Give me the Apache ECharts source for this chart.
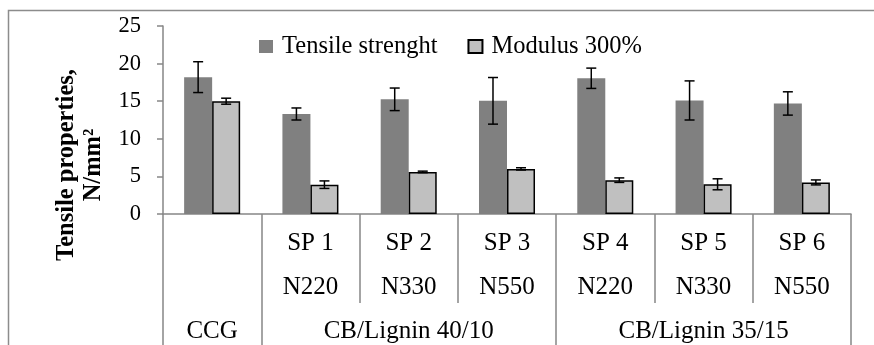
<!DOCTYPE html>
<html>
<head>
<meta charset="utf-8">
<title>Tensile properties</title>
<script src="https://cdn.jsdelivr.net/npm/echarts@6/dist/echarts.min.js"></script>
<style>
  html, body { margin: 0; padding: 0; background: #fff; }
  #chart { width: 874px; height: 345px; }
</style>
</head>
<body>
<div id="chart"></div>
<script>
// Sample rows: compound name, carbon-black grade and filler group
const samples = ['CCG', 'SP 1', 'SP 2', 'SP 3', 'SP 4', 'SP 5', 'SP 6'];
const grades = ['', 'N220', 'N330', 'N550', 'N220', 'N330', 'N550'];
const groups = ['CCG', 'CB/Lignin 40/10', 'CB/Lignin 35/15'];
const groupSpans = [1, 3, 3];

// Measured values (N/mm²) and their standard deviations
const tensile = [18.2, 13.3, 15.25, 15.05, 18.05, 15.1, 14.7];
const tensileErr = [2.05, 0.8, 1.5, 3.1, 1.35, 2.6, 1.55];
const modulus = [15.0, 3.9, 5.6, 6.0, 4.5, 3.95, 4.2];
const modulusErr = [0.4, 0.5, 0.1, 0.15, 0.3, 0.73, 0.33];

const yTicks = { min: 0, max: 25, interval: 5 };

const FONT = 'Liberation Serif';
const GRID_GRAY = '#868686';
const CAT_GAP = 0.43;

// Index where each group starts and the index carrying its label
const groupStarts = [];
const groupLabelAt = {};
let acc = 0;
groups.forEach((g, i) => {
  groupStarts.push(acc);
  groupLabelAt[acc + Math.floor((groupSpans[i] - 1) / 2)] = g;
  acc += groupSpans[i];
});

// Error bars drawn on top of one of the two bars in each category
function errorBars(values, errs, side) {
  return {
    type: 'custom',
    xAxisIndex: 0,
    yAxisIndex: 0,
    z: 10,
    silent: true,
    data: values.map((v, i) => [i, v, errs[i]]),
    renderItem: function (params, api) {
      const idx = api.value(0);
      const v = api.value(1);
      const e = api.value(2);
      const band = api.size([1, 0])[0];
      const barW = band * (1 - CAT_GAP) / 2;
      const c = api.coord([idx, v]);
      const x = c[0] + side * barW / 2;
      const top = api.coord([idx, v + e])[1];
      const bot = api.coord([idx, v - e])[1];
      const half = 5;
      const style = { stroke: '#000', lineWidth: 1.5, fill: null };
      return {
        type: 'group',
        children: [
          { type: 'line', shape: { x1: x, y1: top, x2: x, y2: bot }, style: style },
          { type: 'line', shape: { x1: x - half, y1: top, x2: x + half, y2: top }, style: style },
          { type: 'line', shape: { x1: x - half, y1: bot, x2: x + half, y2: bot }, style: style }
        ]
      };
    }
  };
}

const chart = echarts.init(document.getElementById('chart'), null, { renderer: 'canvas' });

chart.setOption({
  animation: false,
  backgroundColor: '#ffffff',
  textStyle: { fontFamily: FONT, color: '#000' },
  grid: { left: 163, right: 23, top: 26, bottom: 131, containLabel: false },
  legend: {
    data: ['Tensile strenght', 'Modulus 300%'],
    left: 259,
    top: 34,
    padding: 0,
    itemWidth: 14,
    itemHeight: 13,
    itemGap: 30,
    icon: 'rect',
    textStyle: { fontFamily: FONT, fontSize: 24.5, color: '#000', padding: [0, 0, 0, 4] }
  },
  xAxis: [
    {
      type: 'category',
      data: samples,
      position: 'bottom',
      boundaryGap: true,
      axisLine: { show: true, lineStyle: { color: GRID_GRAY, width: 1.5 } },
      axisTick: { show: true, length: 89, lineStyle: { color: GRID_GRAY, width: 1.5 } },
      axisLabel: {
        interval: 0,
        margin: 8,
        fontFamily: FONT,
        fontSize: 25,
        lineHeight: 43.5,
        color: '#000',
        formatter: function (value, idx) {
          return idx === 0 ? '' : value + '\n' + grades[idx];
        }
      },
      splitLine: { show: false }
    },
    {
      type: 'category',
      data: samples,
      position: 'bottom',
      offset: 89,
      boundaryGap: true,
      axisLine: { show: false },
      axisTick: {
        show: true,
        length: 50,
        interval: function (idx) { return groupStarts.indexOf(idx) >= 0; },
        lineStyle: { color: GRID_GRAY, width: 1.5 }
      },
      axisLabel: {
        interval: 0,
        margin: 16,
        fontFamily: FONT,
        fontSize: 25,
        color: '#000',
        formatter: function (value, idx) {
          return groupLabelAt[idx] || '';
        }
      },
      splitLine: { show: false }
    }
  ],
  yAxis: {
    type: 'value',
    min: yTicks.min,
    max: yTicks.max,
    interval: yTicks.interval,
    axisLine: { show: true, lineStyle: { color: GRID_GRAY, width: 1.5 } },
    axisTick: { show: true, length: 6, lineStyle: { color: GRID_GRAY, width: 1.5 } },
    axisLabel: { margin: 22, fontFamily: FONT, fontSize: 22.5, color: '#000' },
    splitLine: { show: false }
  },
  graphic: [
    {
      type: 'rect',
      silent: true,
      shape: { x: 8.5, y: 10.5, width: 1000, height: 500 },
      style: { fill: null, stroke: '#8c8c8c', lineWidth: 1.5 }
    },
    {
      type: 'text',
      silent: true,
      x: 80,
      y: 165,
      rotation: Math.PI / 2,
      style: {
        text: 'Tensile properties,\nN/mm²',
        font: 'bold 24.5px "Liberation Serif"',
        lineHeight: 27,
        align: 'center',
        verticalAlign: 'middle',
        fill: '#000'
      }
    }
  ],
  series: [
    {
      name: 'Tensile strenght',
      type: 'bar',
      xAxisIndex: 0,
      data: tensile,
      barGap: '0%',
      barCategoryGap: (CAT_GAP * 100) + '%',
      itemStyle: { color: '#808080' }
    },
    {
      name: 'Modulus 300%',
      type: 'bar',
      xAxisIndex: 0,
      data: modulus,
      barGap: '0%',
      barCategoryGap: (CAT_GAP * 100) + '%',
      itemStyle: { color: '#c0c0c0', borderColor: '#000', borderWidth: 1.5 }
    },
    errorBars(tensile, tensileErr, -1),
    errorBars(modulus, modulusErr, 1)
  ]
});
</script>
</body>
</html>
